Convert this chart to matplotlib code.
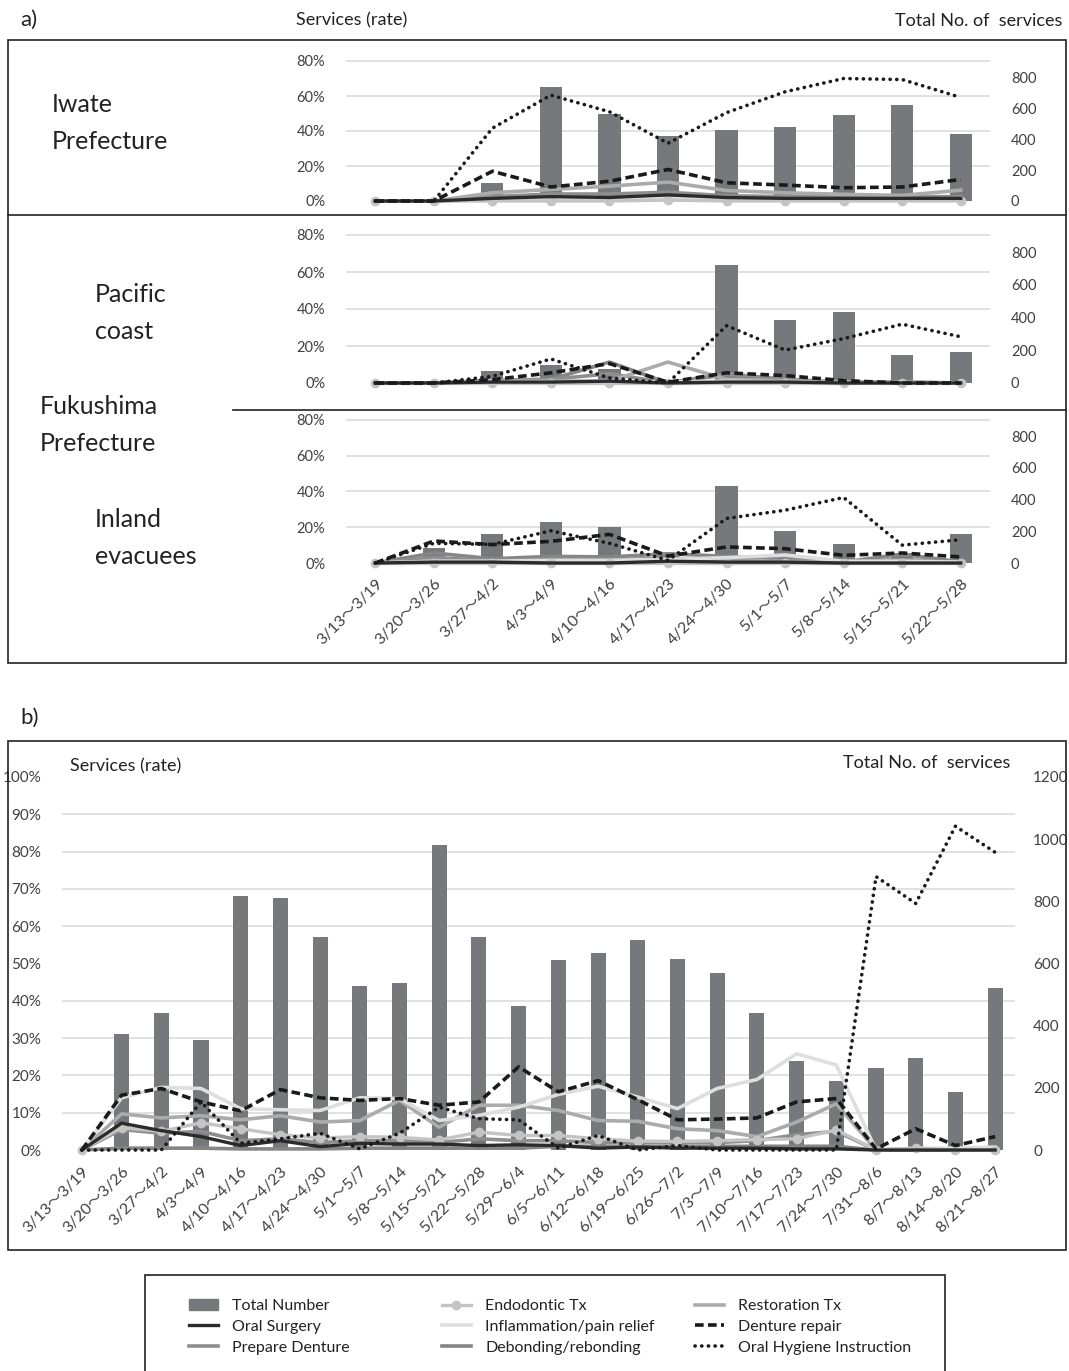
import matplotlib
matplotlib.use("Agg")
import matplotlib.pyplot as plt
import matplotlib.ticker as mticker
from matplotlib.patches import Rectangle, Patch
from matplotlib.lines import Line2D

plt.rcParams['font.family'] = ['Lato', 'Noto Sans CJK JP']

# ---------------- data ----------------
weeks_a = ['3/13～3/19', '3/20～3/26', '3/27～4/2', '4/3～4/9', '4/10～4/16', '4/17～4/23',
           '4/24～4/30', '5/1～5/7', '5/8～5/14', '5/15～5/21', '5/22～5/28']
weeks_b = weeks_a + ['5/29～6/4', '6/5～6/11', '6/12～6/18', '6/19～6/25', '6/26～7/2',
                     '7/3～7/9', '7/10～7/16', '7/17～7/23', '7/24～7/30', '7/31～8/6',
                     '8/7～8/13', '8/14～8/20', '8/21～8/27']

# a) Iwate (rates in %, totals in counts)
iw_total = [0, 0, 119, 735, 562, 417, 458, 476, 556, 623, 432]
iw_oral = [0, 0, 1.5, 2.5, 2, 3.5, 2, 1.5, 1.5, 1.5, 1.5]
iw_prepare = [0, 0, 2.5, 4, 4, 5, 3, 2.5, 2.5, 2.5, 2.5]
iw_endo = [0, 0, 0, 0, 0, 0.5, 0, 0, 0, 0, 0]
iw_inflam = [0, 0, 0.5, 1, 1, 1.5, 1, 0.5, 0.5, 0.5, 0.5]
iw_debond = [0, 0, 1, 2, 2, 2.5, 1.5, 1, 1, 1, 1]
iw_restor = [0, 0, 4.7, 6.6, 8.5, 10.8, 6, 4.7, 3.8, 3.2, 6.2]
iw_denture = [0, 0, 17, 8, 11.3, 18, 10.4, 9.1, 7.6, 8, 12.3]
iw_ohi = [0, 0, 41.6, 60.5, 51, 33, 50.5, 62.4, 70, 69.4, 59.2]

# a) Fukushima - Pacific coast
pc_total = [0, 0, 71, 112, 86, 3, 718, 384, 433, 173, 188]
pc_oral = [0, 0, 0.5, 0.5, 1, 0, 0.5, 0.5, 0, 0, 0]
pc_prepare = [0, 0, 1.5, 2, 5, 0, 5, 2, 0.5, 0, 0]
pc_endo = [0, 0, 0, 0, 0, 0, 0, 0, 0, 0, 0]
pc_inflam = [0, 0, 0.5, 0.5, 1, 0.5, 1, 0.5, 0, 0, 0]
pc_debond = [0, 0, 1, 2, 11.3, 0, 4.5, 1, 0.5, 0.5, 0]
pc_restor = [0, 0, 1, 1, 1, 11.3, 2, 1, 0.5, 0.5, 0]
pc_denture = [0, 0, 1.8, 5.5, 10.5, 0.4, 5.5, 4, 1.3, 0, 0]
pc_ohi = [0, 0, 3.6, 13, 2.7, 0, 31, 17.8, 24, 31.8, 25]

# a) Fukushima - Inland evacuees
in_total = [0, 93, 183, 260, 229, 60, 489, 203, 120, 63, 183]
in_oral = [0, 0.5, 0.5, 0, 0, 1, 0.5, 0.5, 0, 0, 0]
in_prepare = [0, 3, 1.5, 2, 2, 2.5, 2, 4, 0.5, 2, 0.5]
in_endo = [0, 0, 0, 0, 0, 0, 0, 0, 0, 0, 0]
in_inflam = [0, 1, 1, 1.5, 1.5, 2, 3, 4.5, 1, 1, 0.5]
in_debond = [0, 5.6, 2.4, 3.7, 3.4, 5.2, 3.7, 2.4, 0.6, 4.9, 0.6]
in_restor = [0, 1, 0.5, 1, 1, 2, 1, 1, 0.5, 1, 0.5]
in_denture = [0, 12.3, 10.3, 12.1, 16, 3.9, 9, 8, 4.3, 5.6, 3.4]
in_ohi = [0, 11, 10.4, 18, 11, 1.5, 24.9, 29.5, 36.6, 10, 13]

# b) all
b_total = [0, 372, 441, 355, 818, 811, 686, 529, 537, 980, 686, 462,
           611, 633, 676, 616, 570, 441, 285, 223, 264, 296, 187, 520]
b_oral = [0, 7.2, 5.2, 3.6, 1.2, 2.5, 0.9, 1.8, 1.6, 1.6, 1.2, 1.4,
          1.2, 0.5, 0.8, 0.5, 0.5, 0.5, 0.3, 0.3, 0, 0, 0, 0]
b_prepare = [0, 5.5, 4.5, 5.0, 2.5, 3.0, 2.0, 2.5, 2.5, 2.0, 3.0, 2.5,
             2.5, 2.0, 2.0, 2.0, 2.0, 2.5, 4.1, 5.0, 0, 0.3, 0.3, 0.3]
b_endo = [0, 6.0, 5.0, 7.3, 5.7, 4.1, 3.2, 3.6, 3.4, 2.7, 4.8, 3.9,
          3.9, 3.0, 2.4, 2.3, 2.5, 2.8, 3.0, 5.4, 0, 0.5, 0, 0]
b_inflam = [0, 14.0, 16.8, 16.5, 11.1, 10.8, 10.6, 14.0, 13.8, 7.9, 9.3, 11.5,
            14.9, 17.1, 14.2, 11.1, 16.5, 18.9, 25.8, 22.8, 0, 0.5, 0.5, 0.8]
b_debond = [0, 0.5, 0.5, 0.5, 0.3, 0.3, 0.3, 0.5, 0.5, 0.5, 0.5, 0.5,
            1.0, 1.0, 1.0, 1.0, 1.0, 1.0, 1.0, 1.0, 0, 0, 0, 0]
b_restor = [0, 9.7, 8.6, 9.2, 8.1, 9.2, 7.5, 7.9, 13.3, 6.1, 12.0, 12.0,
            10.6, 7.9, 7.7, 5.7, 5.2, 3.6, 7.5, 12.4, 0, 0.3, 0.3, 0.5]
b_denture = [0, 14.7, 16.5, 12.9, 10.5, 16.2, 14.0, 13.3, 13.8, 12.0, 12.9, 22.3,
             15.6, 18.6, 13.5, 8.1, 8.3, 8.6, 12.9, 13.8, 0.3, 5.7, 1.2, 3.6]
b_ohi = [0, 0, 0, 12.9, 1.8, 3.0, 4.5, 0.3, 4.5, 11.5, 8.4, 8.1,
         0.5, 3.9, 0, 1.2, 0, 0, 0, 0, 73.3, 66.1, 86.8, 79.8]

names = ['Total Number', 'Oral Surgery', 'Prepare Denture', 'Endodontic Tx',
         'Inflammation/pain relief', 'Debonding/rebonding', 'Restoration Tx',
         'Denture repair', 'Oral Hygiene Instruction']

# ---------------- styles ----------------
BAR = '#77787b'
GRID = '#d9d9d9'
TXT = '#404040'
styles = {
    'Oral Surgery': dict(color='#2b2b2b', lw=2.4),
    'Prepare Denture': dict(color='#8e8e8e', lw=2.6),
    'Endodontic Tx': dict(color='#c4c4c4', lw=2.4, marker='o', ms=6),
    'Inflammation/pain relief': dict(color='#dedede', lw=2.6),
    'Debonding/rebonding': dict(color='#858585', lw=2.6),
    'Restoration Tx': dict(color='#ababab', lw=2.6),
    'Denture repair': dict(color='#1a1a1a', lw=2.6, ls=(0, (2.4, 1.2))),
    'Oral Hygiene Instruction': dict(color='#1a1a1a', lw=2.6, ls=(0, (0.05, 1.8)),
                                     dash_capstyle='round'),
}

W, H = 1069, 1371
fig = plt.figure(figsize=(W / 100, H / 100), dpi=100)


def px_axes(x0, y0, x1, y1):
    return fig.add_axes([x0 / W, 1 - y1 / H, (x1 - x0) / W, (y1 - y0) / H])


def ftext(x, y, s, **kw):
    fig.text(x / W, 1 - y / H, s, **kw)


def panel(box, total, series, lo, hi, k, rate_ticks, count_ticks, labels, fs, lfs, lpad, rpad):
    axc = px_axes(*box)
    axr = axc.twinx()
    n = len(total)
    xs = list(range(n))
    axc.bar(xs, total, width=0.38, color=BAR, zorder=2)
    axc.set_xlim(-0.5, n - 0.5)
    axc.set_ylim(lo * k, hi * k)
    axc.set_yticks(count_ticks)
    axc.set_yticks([t * k for t in rate_ticks], minor=True)
    axc.yaxis.set_minor_formatter(mticker.NullFormatter())
    axc.grid(True, which='minor', axis='y', color=GRID, lw=1.1)
    axc.tick_params(axis='y', which='both', length=0, pad=rpad, labelsize=fs, labelcolor=TXT,
                    left=False, labelleft=False, right=True, labelright=True)
    for s in axc.spines.values():
        s.set_visible(False)
    axr.set_ylim(lo, hi)
    axr.set_yticks(rate_ticks)
    axr.yaxis.set_major_formatter(mticker.PercentFormatter(xmax=100, decimals=0))
    axr.tick_params(axis='y', length=0, pad=lpad, labelsize=fs, labelcolor=TXT,
                    left=True, labelleft=True, right=False, labelright=False)
    for s in axr.spines.values():
        s.set_visible(False)
    for name, vals in series:
        axr.plot(xs, vals, clip_on=False, **styles[name])
    if labels is not None:
        axc.set_xticks(xs)
        axc.set_xticklabels(labels, rotation=45, ha='right', rotation_mode='anchor',
                            fontsize=lfs, color=TXT)
        axc.tick_params(axis='x', length=0, pad=7)
    else:
        axc.set_xticks([])
    return axc, axr


def mk(o, p, e, i, d, r, dr, oh):
    return [('Debonding/rebonding', d), ('Prepare Denture', p), ('Restoration Tx', r),
            ('Inflammation/pain relief', i), ('Endodontic Tx', e), ('Oral Surgery', o),
            ('Denture repair', dr), ('Oral Hygiene Instruction', oh)]


K_A = 11.3
ticks_a = [0, 20, 40, 60, 80]
cticks_a = [0, 200, 400, 600, 800]

panel((346, 52.25, 990, 204.5), iw_total,
      mk(iw_oral, iw_prepare, iw_endo, iw_inflam, iw_debond, iw_restor, iw_denture, iw_ohi),
      -2, 85, K_A, ticks_a, cticks_a, None, 10.5, 11.5, 15, 15)
panel((346, 225.75, 990, 386.7), pc_total,
      mk(pc_oral, pc_prepare, pc_endo, pc_inflam, pc_debond, pc_restor, pc_denture, pc_ohi),
      -2, 85, K_A, ticks_a, cticks_a, None, 10.5, 11.5, 15, 15)
panel((346, 410.85, 990, 566.6), in_total,
      mk(in_oral, in_prepare, in_endo, in_inflam, in_debond, in_restor, in_denture, in_ohi),
      -2, 85, K_A, ticks_a, cticks_a, weeks_a, 10.5, 11.5, 15, 15)

panel((62, 777, 1015, 1154.5), b_total,
      mk(b_oral, b_prepare, b_endo, b_inflam, b_debond, b_restor, b_denture, b_ohi),
      -1.2, 100, 12, list(range(0, 101, 10)), list(range(0, 1201, 200)),
      weeks_b, 11, 11.5, 15, 13)

# ---------------- frames and titles ----------------
def frame_line(x0, y0, x1, y1, lw=1.2):
    fig.add_artist(Line2D([x0 / W, x1 / W], [1 - y0 / H, 1 - y1 / H],
                          transform=fig.transFigure, color='#222222', lw=lw))


def frame_rect(x0, y0, x1, y1, lw=1.2):
    fig.add_artist(Rectangle((x0 / W, 1 - y1 / H), (x1 - x0) / W, (y1 - y0) / H,
                             transform=fig.transFigure, fill=False,
                             ec='#222222', lw=lw))


frame_rect(8, 40, 1066, 663)
frame_line(8, 215, 1066, 215)
frame_line(233, 410, 1066, 410)
frame_rect(8, 741, 1066, 1250)
frame_rect(145, 1275, 945, 1380)

ftext(20, 20, 'a)', fontsize=16, va='center', color='#222222')
ftext(20, 718, 'b)', fontsize=16, va='center', color='#222222')
ftext(296, 20, 'Services (rate)', fontsize=13, va='center', color='#222222')
ftext(1062, 21, 'Total No. of  services', fontsize=13, va='center', ha='right', color='#222222')
ftext(70, 766, 'Services (rate)', fontsize=13, va='center', color='#222222')
ftext(1010, 763, 'Total No. of  services', fontsize=13, va='center', ha='right', color='#222222')

ftext(52, 123, 'Iwate\nPrefecture', fontsize=18, va='center', linespacing=1.7, color='#222222')
ftext(95, 313, 'Pacific\ncoast', fontsize=18, va='center', linespacing=1.7, color='#222222')
ftext(40, 425, 'Fukushima\nPrefecture', fontsize=18, va='center', linespacing=1.7, color='#222222')
ftext(95, 538, 'Inland\nevacuees', fontsize=18, va='center', linespacing=1.7, color='#222222')

# ---------------- legend ----------------
handles = [Patch(color=BAR)]
for nm in names[1:]:
    handles.append(Line2D([], [], **styles[nm]))
cols = [(189, names[0:3], handles[0:3]), (442, names[3:6], handles[3:6]),
        (695, names[6:9], handles[6:9])]
for x, labs, hs in cols:
    fig.legend(hs, labs, loc='upper left', bbox_to_anchor=(x / W, 1 - 1299 / H),
               frameon=False, fontsize=11.5, handlelength=1.8, handletextpad=0.9,
               labelspacing=0.42, borderpad=0, borderaxespad=0, labelcolor='#222222')

fig.savefig('out.png', dpi=100)
